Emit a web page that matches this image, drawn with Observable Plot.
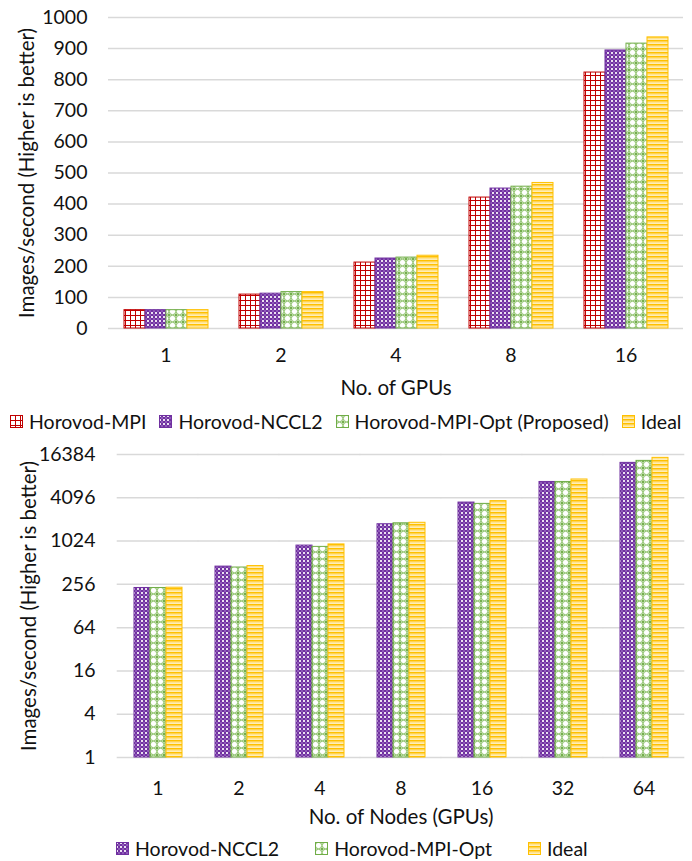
<!DOCTYPE html>
<html><head><meta charset="utf-8">
<script src="https://cdn.jsdelivr.net/npm/d3@7"></script>
<script src="https://cdn.jsdelivr.net/npm/@observablehq/plot@0.6"></script>
<style>
body{margin:0;background:#fff;font-family:Lato,sans-serif;color:#111;width:692px;}
.legend{display:flex;align-items:center;font-size:19.5px;height:38px;white-space:nowrap;box-sizing:border-box}
.item{display:flex;align-items:center}
.item svg{margin-right:6px;flex:none}
#leg1{padding-left:10px;gap:13px}
#leg2{padding-left:116px;gap:36px;height:31px;padding-top:6px}
[aria-label="y-axis label"] text, [aria-label="fx-axis label"] text {font-size:20.5px}
</style></head><body>
<svg width="0" height="0" style="position:absolute">
<defs>
<pattern id="p-mpi" width="5" height="5" patternUnits="userSpaceOnUse">
 <rect width="5" height="5" fill="#fff"/>
 <path d="M0 0.5H5M0.5 0V5" stroke="#c00000" stroke-width="1"/>
</pattern>
<pattern id="p-nccl" width="4" height="4" patternUnits="userSpaceOnUse">
 <rect width="4" height="4" fill="#7030a0"/>
 <rect width="2" height="2" fill="#fff" opacity="0.85"/>
 <rect x="2" y="2" width="2" height="2" fill="#8e5ab8"/>
</pattern>
<pattern id="p-opt" width="7" height="7" patternUnits="userSpaceOnUse">
 <rect width="7" height="7" fill="#fff"/>
 <circle cx="3.5" cy="3.5" r="3.2" fill="none" stroke="#8cc168" stroke-width="1"/>
 <path d="M0 0L1 1M7 0L6 1M0 7L1 6M7 7L6 6" stroke="#70ad47" stroke-width="1.2"/>
</pattern>
<pattern id="p-ideal" width="4" height="4" patternUnits="userSpaceOnUse">
 <rect width="4" height="4" fill="#fff2cc"/>
 <rect y="0" width="4" height="1.6" fill="#ffc000"/>
 <rect y="2.4" width="4" height="0.8" fill="#ffd966"/>
</pattern>
</defs></svg>
<div id="top"></div>
<div id="leg1" class="legend"></div>
<div id="bot"></div>
<div id="leg2" class="legend"></div>
<script>
// ---- Top chart data ----
const gpus = ["1", "2", "4", "8", "16"];
const seriesTop = ["Horovod-MPI", "Horovod-NCCL2", "Horovod-MPI-Opt (Proposed)", "Ideal"];
const mpiTop = [59, 109, 212, 421, 823];
const ncclTop = [59, 112, 225, 450, 894];
const optTop = [59, 117, 228, 456, 916];
const idealTop = [59, 117, 234, 468, 936];
const yTicksTop = [0, 100, 200, 300, 400, 500, 600, 700, 800, 900, 1000];

// ---- Bottom chart data ----
const nodes = ["1", "2", "4", "8", "16", "32", "64"];
const seriesBot = ["Horovod-NCCL2", "Horovod-MPI-Opt", "Ideal"];
const ncclBot = [228, 452, 886, 1755, 3515, 6800, 12530];
const optBot = [228, 439, 850, 1810, 3370, 6800, 13360];
const idealBot = [230, 460, 920, 1840, 3680, 7360, 14720];
const yTicksBot = [1, 4, 16, 64, 256, 1024, 4096, 16384];

// ---- styles ----
const patTop = ["url(#p-mpi)", "url(#p-nccl)", "url(#p-opt)", "url(#p-ideal)"];
const strokeTop = ["#c00000", "#7030a0", "#70ad47", "#ffc000"];
const patBot = ["url(#p-nccl)", "url(#p-opt)", "url(#p-ideal)"];
const strokeBot = ["#7030a0", "#70ad47", "#ffc000"];

const topVals = [mpiTop, ncclTop, optTop, idealTop];
const topData = [];
gpus.forEach((g, i) => seriesTop.forEach((s, j) => topData.push({group: g, series: s, value: topVals[j][i]})));
const botVals = [ncclBot, optBot, idealBot];
const botData = [];
nodes.forEach((g, i) => seriesBot.forEach((s, j) => botData.push({group: g, series: s, value: botVals[j][i]})));

const yLabel = "Images/second (Higher is better)";
const style = {fontFamily: "Lato, sans-serif", fontSize: "19.5px", color: "#111", background: "#fff", overflow: "visible"};

const topPlot = Plot.plot({
  width: 692, height: 402, marginTop: 17, marginBottom: 74, marginLeft: 108, marginRight: 9,
  style,
  fx: {domain: gpus, paddingInner: 0.26, paddingOuter: 0.13, tickSize: 0, tickPadding: 20,
       label: "No. of GPUs", labelAnchor: "center", labelOffset: 66, labelArrow: "none"},
  x: {domain: seriesTop, axis: null, padding: 0},
  y: {domain: [0, 1000], ticks: yTicksTop, tickFormat: "d", tickSize: 0, tickPadding: 36,
      label: yLabel, labelAnchor: "center", labelOffset: 104, labelArrow: "none"},
  color: {domain: seriesTop, range: patTop},
  marks: [
    Plot.ruleY(yTicksTop, {stroke: "#d9d9d9", strokeWidth: 1.5, insetLeft: -15, insetRight: -15}),
    Plot.barY(topData, {fx: "group", x: "series", y: "value", fill: "series",
      stroke: d => strokeTop[seriesTop.indexOf(d.series)], strokeWidth: 1})
  ]
});
document.getElementById("top").appendChild(topPlot);

const botPlot = Plot.plot({
  width: 692, height: 390, marginTop: 14, marginBottom: 73, marginLeft: 116, marginRight: 7,
  style,
  fx: {domain: nodes, paddingInner: 0.4, paddingOuter: 0.2, tickSize: 0, tickPadding: 24,
       label: "No. of Nodes (GPUs)", labelAnchor: "center", labelOffset: 66, labelArrow: "none"},
  x: {domain: seriesBot, axis: null, padding: 0},
  y: {type: "log", base: 2, domain: [1, 16384], ticks: yTicksBot, tickFormat: "d", tickSize: 0, tickPadding: 38,
      label: yLabel, labelAnchor: "center", labelOffset: 112, labelArrow: "none"},
  color: {domain: seriesBot, range: patBot},
  marks: [
    Plot.ruleY(yTicksBot, {stroke: "#d9d9d9", strokeWidth: 1.5, insetLeft: -16.3, insetRight: -16.3}),
    Plot.barY(botData, {fx: "group", x: "series", y1: 1, y2: "value", fill: "series",
      stroke: d => strokeBot[seriesBot.indexOf(d.series)], strokeWidth: 1})
  ]
});
document.getElementById("bot").appendChild(botPlot);

function legend(el, series, pats, strokes) {
  series.forEach((s, i) => {
    const it = document.createElement("div");
    it.className = "item";
    it.innerHTML = `<svg width="13" height="13"><rect x="0.5" y="0.5" width="12" height="12" fill="${pats[i]}" stroke="${strokes[i]}" stroke-width="1"/></svg><span></span>`;
    it.querySelector("span").textContent = s;
    el.appendChild(it);
  });
}
legend(document.getElementById("leg1"), seriesTop, patTop, strokeTop);
legend(document.getElementById("leg2"), seriesBot, patBot, strokeBot);
</script>
</body></html>
